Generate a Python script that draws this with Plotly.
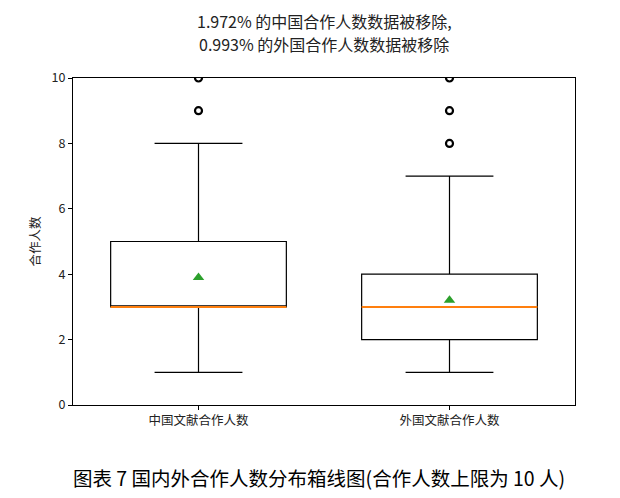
import plotly.graph_objects as go

categories = ["中国文献合作人数", "外国文献合作人数"]
positions = [1, 2]
q1 = [3, 2]
median = [3, 3]
q3 = [5, 4]
lower_whisker = [1, 1]
upper_whisker = [8, 7]
means = [3.9, 3.2]
outliers = [[9, 10], [8, 9, 10]]
yticks = [0, 2, 4, 6, 8, 10]

box_w = 0.7
font = "Noto Sans CJK SC, DejaVu Sans, sans-serif"

fig = go.Figure()
for i, p in enumerate(positions):
    fig.add_trace(go.Box(
        x=[p], q1=[q1[i]], median=[median[i]], q3=[q3[i]],
        lowerfence=[lower_whisker[i]], upperfence=[upper_whisker[i]],
        width=box_w, whiskerwidth=0.5, boxpoints=False,
        fillcolor="rgba(0,0,0,0)", line=dict(color="black", width=1.2),
        showlegend=False, hoverinfo="skip"))
    fig.add_trace(go.Scatter(
        x=[p - box_w / 2, p + box_w / 2], y=[median[i], median[i]],
        mode="lines", line=dict(color="#ff7f0e", width=2),
        showlegend=False, hoverinfo="skip"))
    fig.add_trace(go.Scatter(
        x=[p] * len(outliers[i]), y=outliers[i], mode="markers",
        marker=dict(symbol="circle-open", size=7, color="black", line=dict(width=2.2)),
        showlegend=False, hoverinfo="skip"))
    fig.add_trace(go.Scatter(
        x=[p], y=[means[i]], mode="markers",
        marker=dict(symbol="triangle-up", size=10, color="#2ca02c"),
        showlegend=False, hoverinfo="skip"))

fig.update_layout(
    width=620, height=498,
    margin=dict(l=73, r=45, t=78, b=93),
    paper_bgcolor="white", plot_bgcolor="white",
    font=dict(family=font, size=12, color="#222"),
    xaxis=dict(range=[0.5, 2.5], tickvals=positions, ticktext=categories,
               showline=True, linecolor="black", linewidth=1, mirror=True,
               ticks="outside", ticklen=4, tickcolor="black", showgrid=False,
               zeroline=False, tickfont=dict(size=12.5)),
    yaxis=dict(range=[0, 10], tickvals=yticks,
               showline=True, linecolor="black", linewidth=1, mirror=True,
               ticks="outside", ticklen=4, tickcolor="black", showgrid=False,
               zeroline=False, title=dict(text="合作人数", font=dict(size=12.5), standoff=8),
               tickfont=dict(size=12.5)),
    annotations=[
        dict(text="1.972% 的中国合作人数数据被移除,",
             xref="paper", yref="paper", x=0.5, y=1.0, yshift=57,
             xanchor="center", yanchor="middle", showarrow=False,
             font=dict(size=16, color="#222", family=font)),
        dict(text="0.993% 的外国合作人数数据被移除",
             xref="paper", yref="paper", x=0.5, y=1.0, yshift=34,
             xanchor="center", yanchor="middle", showarrow=False,
             font=dict(size=16, color="#222", family=font)),
        dict(text="图表 7 国内外合作人数分布箱线图(合作人数上限为 10 人)",
             xref="paper", yref="paper", x=0.49, y=0.0, yshift=-72,
             xanchor="center", yanchor="middle", showarrow=False,
             font=dict(size=19.5, color="black", family=font)),
    ],
)

fig.write_html("out.html")
